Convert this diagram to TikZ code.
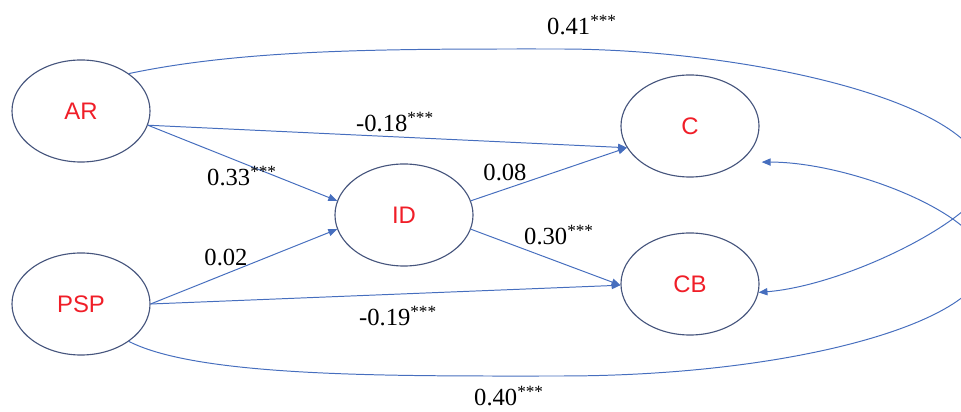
\documentclass[tikz,border=0pt]{standalone}
\usepackage{fontspec}
\setmainfont{Liberation Serif}
\newfontfamily\latfont{Liberation Sans}
\usetikzlibrary{shapes.geometric,arrows.meta}
\definecolor{edgeblue}{RGB}{70,110,190}
\definecolor{ovalline}{RGB}{70,85,125}
\definecolor{lvred}{RGB}{240,30,40}
\tikzset{
  latent/.style={ellipse, draw=ovalline, line width=0.8pt, minimum width=3.45cm, minimum height=2.55cm,
    inner sep=0pt, text=lvred, font=\latfont\fontsize{17}{20}\selectfont},
  path/.style={draw=edgeblue, line width=0.7pt, -{Triangle[length=2.2mm,width=1.8mm]}},
  coef/.style={font=\fontsize{17.5}{20}\selectfont, inner sep=0pt}
}
\begin{document}
\begin{tikzpicture}[x=0.025cm,y=-0.025cm]
\useasboundingbox (0,0) rectangle (961,412);
\node[latent] (AR)  at (81,111) {AR};
\node[latent] (PSP) at (81,304) {PSP};
\node[latent] (ID)  at (404,215) {ID};
\node[latent] (C)   at (690,126) {C};
\node[latent] (CB)  at (690,284) {CB};

\draw[path] (AR.-12) -- (C.199);
\draw[path] (AR.-12) -- (ID.168);
\draw[path] (ID.12) -- (C.199);
\draw[path] (ID.-12) -- (CB.181);
\draw[path] (PSP.east) -- (ID.192);
\draw[path] (PSP.east) -- (CB.181);

\begin{scope}
\clip (0,0) rectangle (961,412);
\draw[path] (AR.38) .. controls (250,48) and (400,49) .. (560,49)
  .. controls (740,49) and (985,100) .. (985,180)
  .. controls (985,215) and (850,285) .. (CB.-7);
\draw[path, shorten >=0.55cm] (PSP.-38) .. controls (200,378) and (400,376) .. (560,376)
  .. controls (800,376) and (985,320) .. (985,262)
  .. controls (985,215) and (850,162) .. (C.-36);
\end{scope}

\node[coef] (l41) at (582,25) {0.41\textsuperscript{***}};
\node[coef] (l18) at (395,122) {-0.18\textsuperscript{***}};
\node[coef] (l33) at (242,176) {0.33\textsuperscript{***}};
\node[coef] (l08) at (505,172) {0.08};
\node[coef] (l30) at (559,235) {0.30\textsuperscript{***}};
\node[coef] (l02) at (226,257) {0.02};
\node[coef] (l19) at (398,316) {-0.19\textsuperscript{***}};
\node[coef] (l40) at (509,396) {0.40\textsuperscript{***}};
\end{tikzpicture}
\end{document}
